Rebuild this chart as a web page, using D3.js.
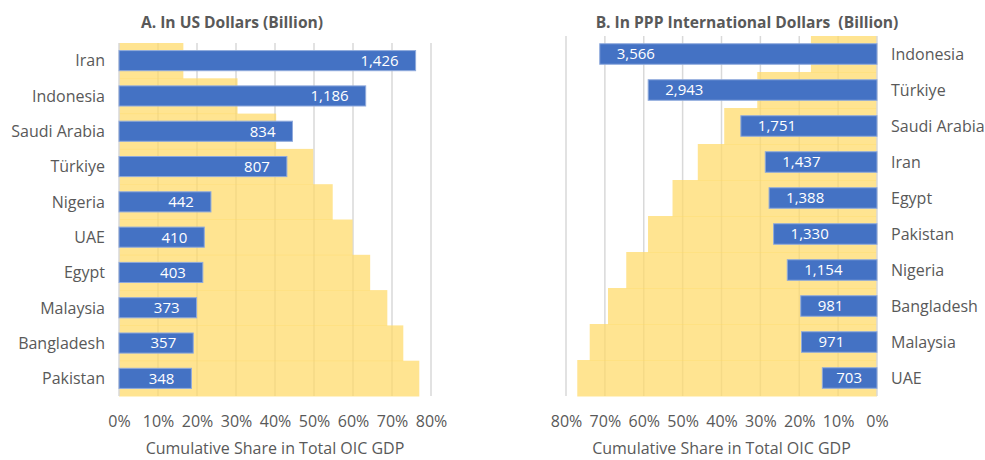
<!DOCTYPE html>
<html>
<head>
<meta charset="utf-8">
<script src="https://cdn.jsdelivr.net/npm/d3@7"></script>
<style>
  html, body { margin: 0; padding: 0; background: #fff; }
  svg { display: block; }
  text { font-family: "Open Sans", Lato, sans-serif; }
</style>
</head>
<body>
<svg id="chart" width="985" height="460"></svg>
<script>
// ---- Data ----
const catsUSD = ["Iran", "Indonesia", "Saudi Arabia", "Türkiye", "Nigeria", "UAE", "Egypt", "Malaysia", "Bangladesh", "Pakistan"];
const valsUSD = [1426, 1186, 834, 807, 442, 410, 403, 373, 357, 348];
const cumUSD = [16.5, 30.4, 40.3, 49.8, 54.8, 59.9, 64.4, 68.8, 72.9, 77.0];

const catsPPP = ["Indonesia", "Türkiye", "Saudi Arabia", "Iran", "Egypt", "Pakistan", "Nigeria", "Bangladesh", "Malaysia", "UAE"];
const valsPPP = [3566, 2943, 1751, 1437, 1388, 1330, 1154, 981, 971, 703];
const cumPPP = [17.0, 30.8, 39.3, 46.1, 52.6, 58.9, 64.5, 69.2, 73.9, 77.1];

const shareTicks = [0, 10, 20, 30, 40, 50, 60, 70, 80];
const titleUSD = "A. In US Dollars (Billion)";
const titlePPP = "B. In PPP International Dollars  (Billion)";
const axisTitle = "Cumulative Share in Total OIC GDP";

// ---- Style ----
const FONT = "'Open Sans', Lato, sans-serif";
const BLUE = "#4472C4", BLUE_EDGE = "#8FAADC", GOLD = "#FFD966";
const GRID = "#D9D9D9", TEXT = "#595959";
const svg = d3.select("#chart");
const fmt = d3.format(",");

function panel(opt) {
  const g = svg.append("g");
  const xShare = d3.scaleLinear().domain([0, 80]).range(opt.xRange);
  const xVal = d3.scaleLinear().domain([0, opt.valMax]).range(opt.xRange);
  const yBand = d3.scaleBand().domain(opt.cats).range(opt.yRange).paddingInner(0).paddingOuter(0);
  const yBar = d3.scaleBand().domain(opt.cats).range(opt.yRange).paddingInner(0.43).paddingOuter(0.215);
  const [y0, y1] = opt.yRange;

  // gridlines
  g.append("g").selectAll("line").data(shareTicks.slice(1)).join("line")
    .attr("x1", d => xShare(d)).attr("x2", d => xShare(d))
    .attr("y1", y0).attr("y2", y1)
    .attr("stroke", GRID).attr("stroke-width", 1.5);

  // cumulative share (step bars)
  g.append("g").selectAll("rect").data(opt.cats).join("rect")
    .attr("x", (d, i) => Math.min(xShare(0), xShare(opt.cum[i])))
    .attr("width", (d, i) => Math.abs(xShare(opt.cum[i]) - xShare(0)))
    .attr("y", d => yBand(d))
    .attr("height", yBand.bandwidth() + 0.5)
    .attr("fill", GOLD).attr("fill-opacity", 0.72);

  // axis line at 0
  g.append("line")
    .attr("x1", xShare(0)).attr("x2", xShare(0)).attr("y1", y0).attr("y2", y1)
    .attr("stroke", GRID).attr("stroke-width", 1.5);

  // value bars
  g.append("g").selectAll("rect").data(opt.cats).join("rect")
    .attr("x", (d, i) => Math.min(xVal(0), xVal(opt.vals[i])))
    .attr("width", (d, i) => Math.abs(xVal(opt.vals[i]) - xVal(0)))
    .attr("y", d => yBar(d))
    .attr("height", yBar.bandwidth())
    .attr("fill", BLUE).attr("stroke", BLUE_EDGE).attr("stroke-width", 1);

  // value labels (inside end)
  g.append("g").selectAll("text").data(opt.cats).join("text")
    .attr("y", d => yBar(d) + yBar.bandwidth() / 2)
    .attr("dy", "0.36em")
    .attr("fill", "#fff").attr("font-size", 15)
    .text((d, i) => fmt(opt.vals[i]))
    .each(function(d, i) {
      const w = this.getComputedTextLength();
      const end = xVal(opt.vals[i]);
      const base = xVal(0);
      let left;
      if (opt.reversed) {
        left = end + 17;
        if (left + w > base - 15) left = base - 15 - w;
      } else {
        left = end - 17 - w;
        if (left < base + 15) left = base + 15;
      }
      d3.select(this).attr("x", left);
    });

  // category labels
  g.append("g").selectAll("text").data(opt.cats).join("text")
    .attr("x", opt.labelX)
    .attr("y", d => yBar(d) + yBar.bandwidth() / 2)
    .attr("dy", "0.36em")
    .attr("text-anchor", opt.reversed ? "start" : "end")
    .attr("fill", TEXT).attr("font-size", 16)
    .text(d => d);

  // x axis
  const ax = g.append("g").attr("transform", `translate(0,${y1 + 20})`)
    .call(d3.axisBottom(xShare).tickValues(shareTicks).tickSize(0).tickFormat(d => d + "%"));
  ax.select(".domain").remove();
  ax.selectAll("text").attr("font-size", 16).attr("fill", TEXT)
    .attr("font-family", FONT).attr("dy", "0.71em").attr("y", 0);

  // axis title
  g.append("text")
    .attr("x", (opt.xRange[0] + opt.xRange[1]) / 2).attr("y", 454)
    .attr("text-anchor", "middle").attr("fill", TEXT).attr("font-size", 16)
    .text(axisTitle);

  // panel title
  g.append("text")
    .attr("x", opt.titleX).attr("y", 28)
    .attr("text-anchor", "middle").attr("fill", TEXT)
    .attr("font-size", 15.6).attr("font-weight", "bold")
    .attr("xml:space", "preserve").style("white-space", "pre")
    .text(opt.title);
}

panel({
  cats: catsUSD, vals: valsUSD, cum: cumUSD, valMax: 1500,
  xRange: [119, 431], yRange: [43, 396], labelX: 105,
  reversed: false, titleX: 232, title: titleUSD
});
panel({
  cats: catsPPP, vals: valsPPP, cum: cumPPP, valMax: 4000,
  xRange: [877, 566], yRange: [36, 396], labelX: 891,
  reversed: true, titleX: 747, title: titlePPP
});
</script>
</body>
</html>
